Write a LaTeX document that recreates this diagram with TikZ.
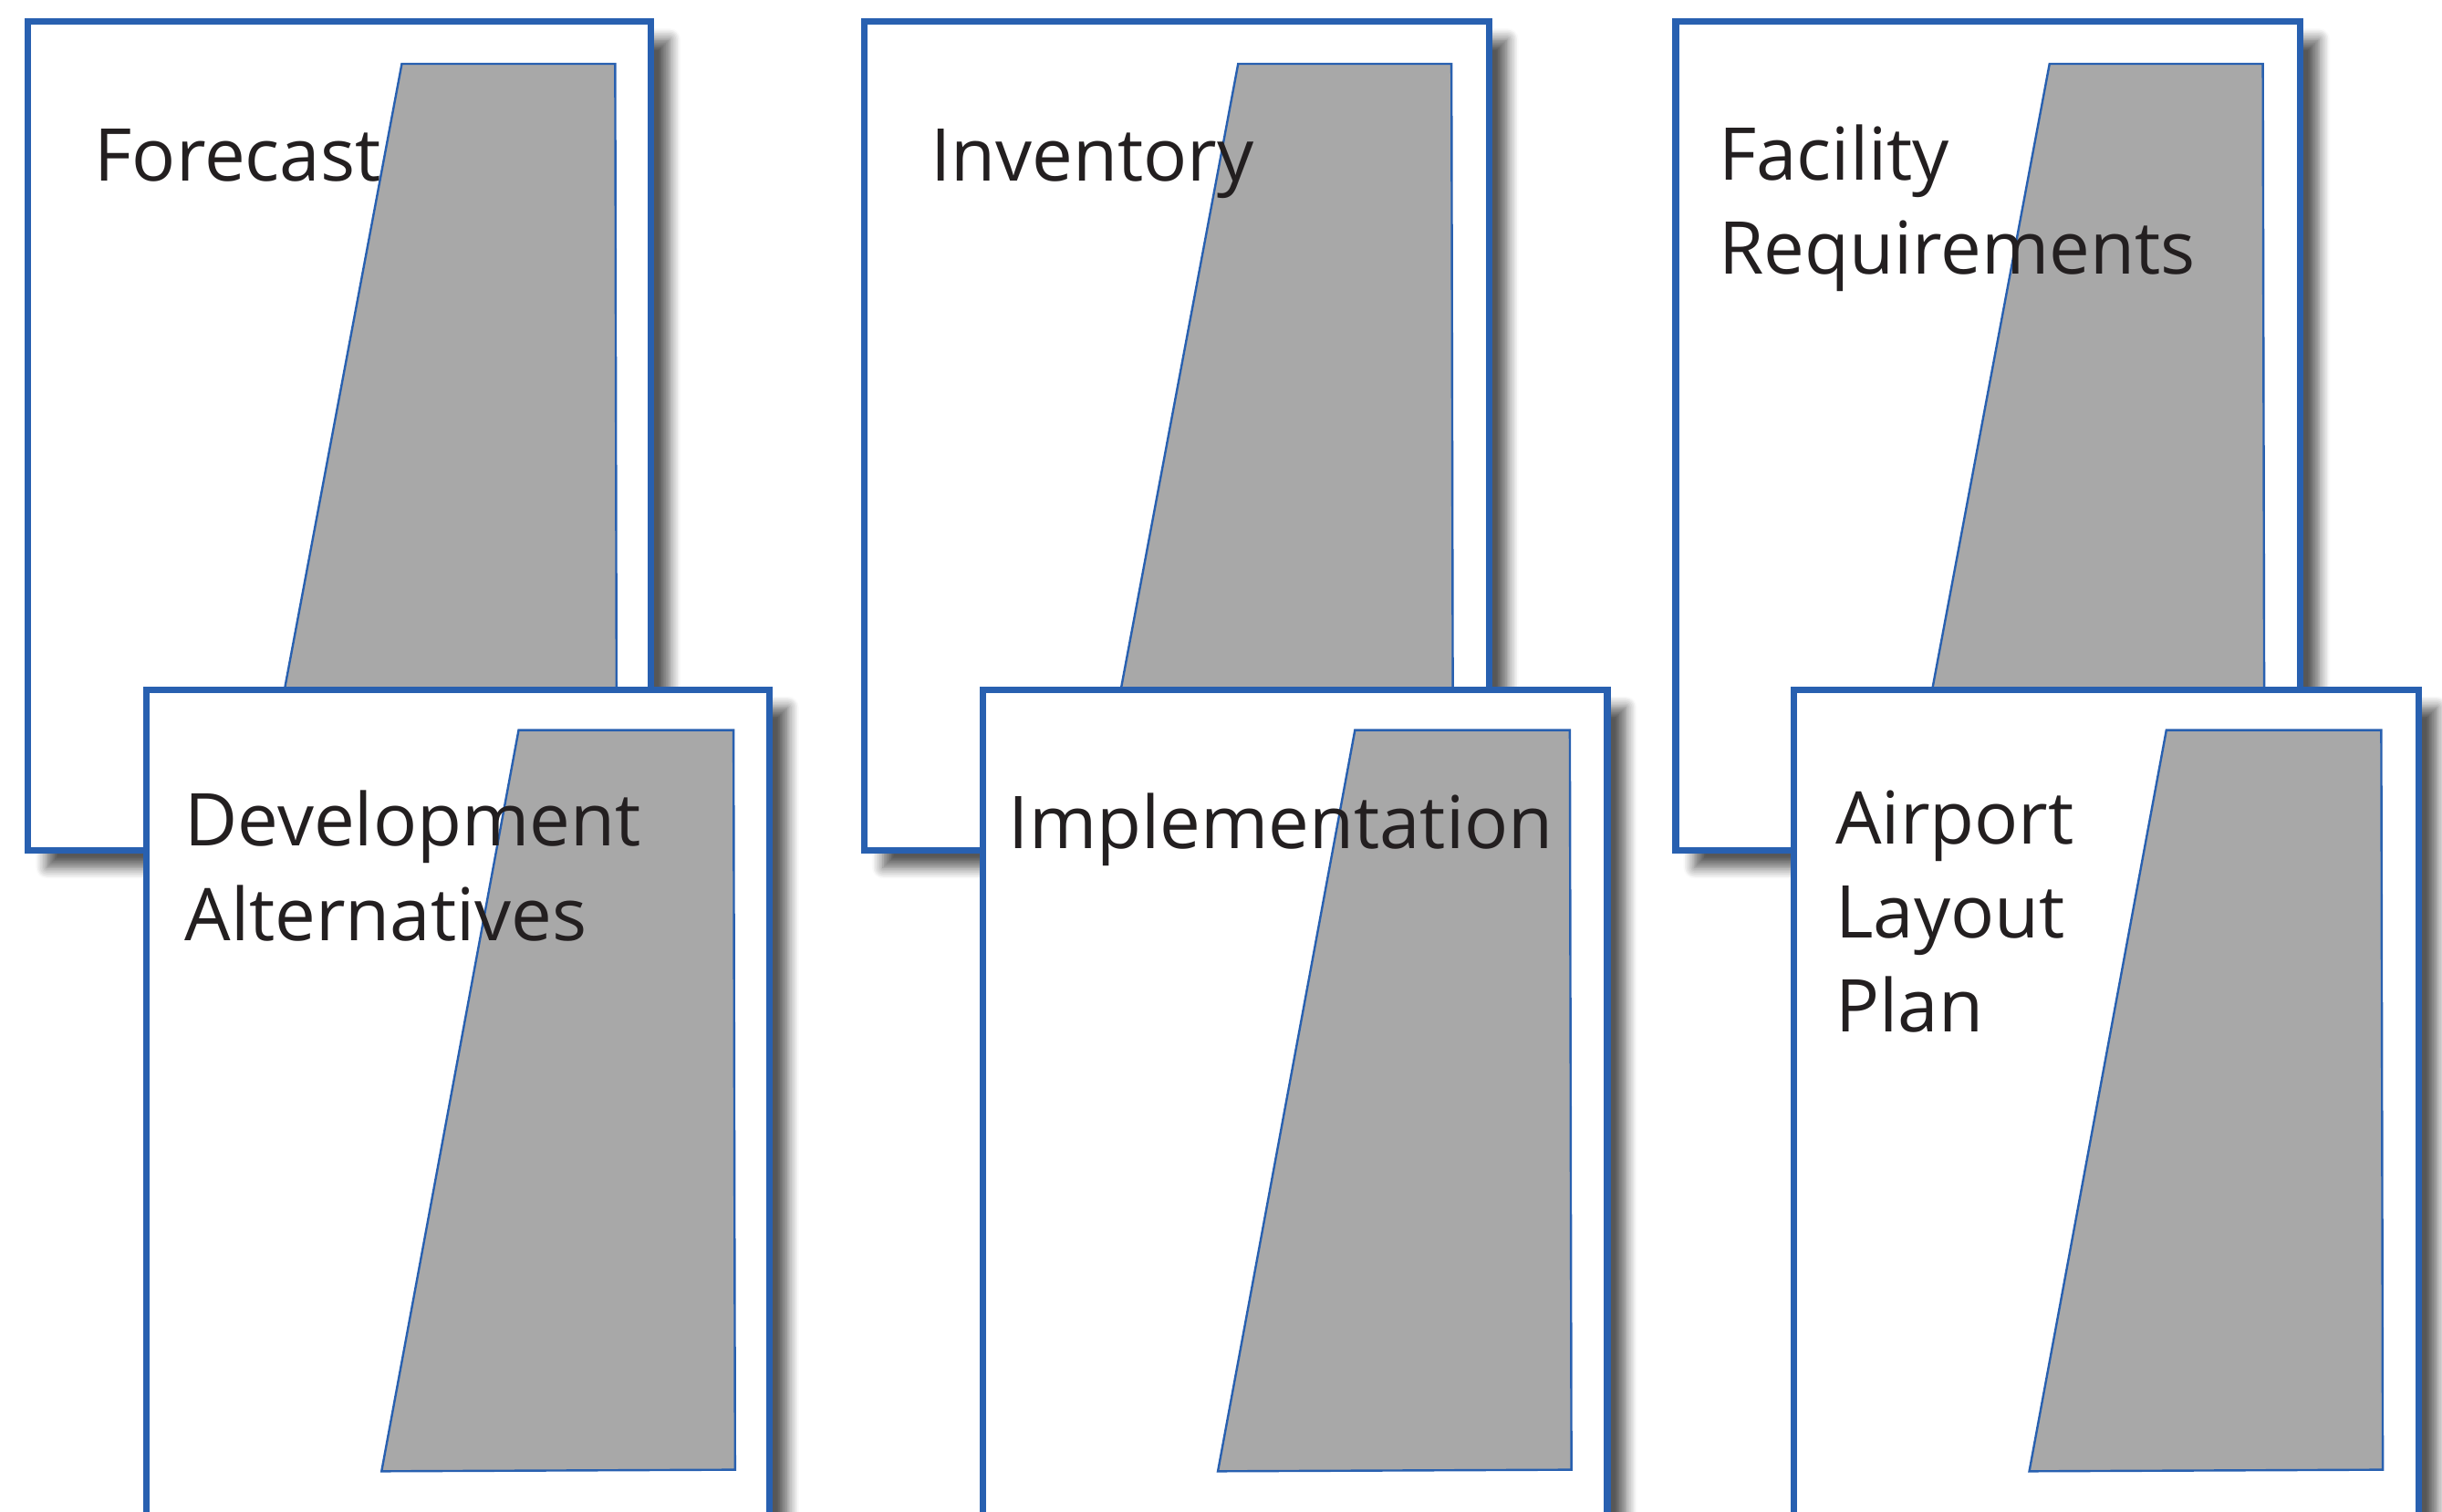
\documentclass[tikz,border=0pt]{standalone}
\usepackage{fontspec}
\setmainfont{Open Sans}
\usetikzlibrary{shadows.blur}
\definecolor{cardblue}{RGB}{40,96,176}
\definecolor{pagegray}{RGB}{168,168,168}
\definecolor{inkblack}{RGB}{35,31,32}
\tikzset{
  card/.style={draw=cardblue, line width=1.2pt, fill=white,
    blur shadow={shadow xshift=3.4pt, shadow yshift=-3.2pt, shadow blur radius=2pt, shadow blur steps=8, shadow opacity=66}},
  page/.style={draw=cardblue, line width=0.4pt, fill=pagegray},
  title/.style={anchor=base west, align=left, inner sep=0pt, text=inkblack, font=\fontsize{13.3}{17.2}\selectfont}
}
\begin{document}
\begin{tikzpicture}[x=0.01cm, y=-0.01cm]
\useasboundingbox (0,0) rectangle (1568,971);
% top row
\begin{scope}[shift={(18,14)}]
\draw[card] (0,0) rectangle (400,532);
\draw[page] (240,27) -- (377,27) -- (378,502) -- (151,502) -- cycle;
\node[title] (forecast) at (42,102) {Forecast};
\end{scope}
\begin{scope}[shift={(555,14)}]
\draw[card] (0,0) rectangle (401,532);
\draw[page] (240,27) -- (377,27) -- (378,502) -- (151,502) -- cycle;
\node[title] (inventory) at (42,102) {Inventory};
\end{scope}
\begin{scope}[shift={(1076,14)}]
\draw[card] (0,0) rectangle (401,532);
\draw[page] (240,27) -- (377,27) -- (378,502) -- (151,502) -- cycle;
% last line sits on the base anchor
\node[title] (facility) at (27,162) {Facility\\Requirements};
\end{scope}
% bottom row
\begin{scope}[shift={(94,443)}]
\draw[card] (0,0) rectangle (400,532);
\draw[page] (239,26) -- (377,26) -- (378,501) -- (151,502) -- cycle;
\node[title] (development) at (24,161) {Development\\Alternatives};
\end{scope}
\begin{scope}[shift={(631,443)}]
\draw[card] (0,0) rectangle (401,532);
\draw[page] (239,26) -- (377,26) -- (378,501) -- (151,502) -- cycle;
\node[title] (implementation) at (16,102) {Implementation};
\end{scope}
\begin{scope}[shift={(1152,443)}]
\draw[card] (0,0) rectangle (401,532);
\draw[page] (239,26) -- (377,26) -- (378,501) -- (151,502) -- cycle;
\node[title] (airport) at (26,220) {Airport\\Layout\\Plan};
\end{scope}
\end{tikzpicture}
\end{document}
